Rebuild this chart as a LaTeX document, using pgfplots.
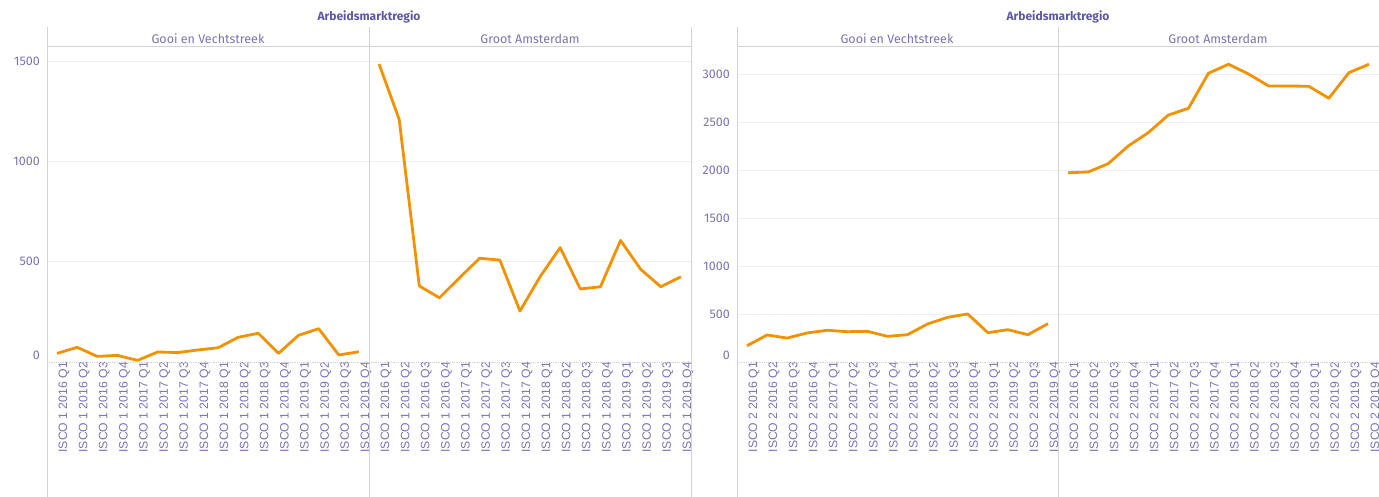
\documentclass[border=0pt]{standalone}
\usepackage{pgfplots}
\pgfplotsset{compat=1.18}
\usepackage{fontspec}
\setmainfont{Liberation Sans}
\newfontfamily\tabfont{Fira Sans}
\definecolor{txt}{HTML}{7A73B5}
\definecolor{ttl}{HTML}{5E57A3}
\definecolor{frm}{HTML}{D3D3D3}
\definecolor{grd}{HTML}{EFEFEF}
\definecolor{org}{HTML}{F39200}

\pgfplotsset{
  panel/.style={
    scale only axis, width=322pt, height=315pt, anchor=south west,
    xmin=-0.5, xmax=15.5, ymin=0,
    axis line style={draw=none},
    tick pos=left,
    xtick={0,...,15},
    major tick length=0pt,
    minor xtick={0.5,1.5,...,14.5},
    minor tick length=6pt,
    tick align=outside,
    minor tick style={color=grd, line width=0.8pt},
    xticklabel style={rotate=90, anchor=east, font=\fontsize{12.2}{13}\selectfont, text=txt, inner sep=0pt, yshift=-7pt},
    yticklabel style={font=\tabfont\fontsize{12.5}{13}\selectfont, text=txt, anchor=east, inner sep=0pt, xshift=-7pt},
    /pgf/number format/assume math mode=true,
    /pgf/number format/1000 sep={},
    scaled y ticks=false,
    ymajorgrids, grid style={color=grd, line width=1pt},
    cycle list={{org, line width=2.8pt, line join=round, mark=none}},
  },
  isco1/.style={xticklabels={ISCO 1 2016 Q1,ISCO 1 2016 Q2,ISCO 1 2016 Q3,ISCO 1 2016 Q4,ISCO 1 2017 Q1,ISCO 1 2017 Q2,ISCO 1 2017 Q3,ISCO 1 2017 Q4,ISCO 1 2018 Q1,ISCO 1 2018 Q2,ISCO 1 2018 Q3,ISCO 1 2018 Q4,ISCO 1 2019 Q1,ISCO 1 2019 Q2,ISCO 1 2019 Q3,ISCO 1 2019 Q4}},
  isco2/.style={xticklabels={ISCO 2 2016 Q1,ISCO 2 2016 Q2,ISCO 2 2016 Q3,ISCO 2 2016 Q4,ISCO 2 2017 Q1,ISCO 2 2017 Q2,ISCO 2 2017 Q3,ISCO 2 2017 Q4,ISCO 2 2018 Q1,ISCO 2 2018 Q2,ISCO 2 2018 Q3,ISCO 2 2018 Q4,ISCO 2 2019 Q1,ISCO 2 2019 Q2,ISCO 2 2019 Q3,ISCO 2 2019 Q4}},
}

\begin{document}
\begin{tikzpicture}[x=1pt,y=1pt]
\useasboundingbox (0,0) rectangle (1379,497);

% ---------- left chart (ISCO 1) ----------
\begin{axis}[panel, isco1, at={(47pt,135pt)}, ymax=1570,
  ytick={500,1000,1500}, extra y ticks={0},
  extra y tick style={yticklabel style={yshift=7pt}, grid=none}]
\addplot[org, line width=2.8pt, line join=round, mark=none] coordinates {(0,43) (1,73) (2,28) (3,33) (4,8) (5,50) (6,47) (7,60) (8,71) (9,123) (10,143) (11,43) (12,133) (13,166) (14,35) (15,51)};
\end{axis}
\begin{axis}[panel, isco1, at={(369pt,135pt)}, ymax=1570,
  ytick={500,1000,1500}, yticklabels={}]
\addplot[org, line width=2.8pt, line join=round, mark=none] coordinates {(0,1485) (1,1209) (2,379) (3,320) (4,420) (5,517) (6,508) (7,254) (8,425) (9,570) (10,364) (11,375) (12,606) (13,462) (14,375) (15,425)};
\end{axis}

% ---------- right chart (ISCO 2) ----------
\begin{axis}[panel, isco2, at={(737pt,135pt)}, width=321pt, ymax=3287,
  ytick={500,1000,...,3000}, extra y ticks={0},
  extra y tick style={yticklabel style={yshift=7pt}, grid=none}]
\addplot[org, line width=2.8pt, line join=round, mark=none] coordinates {(0,170) (1,282) (2,250) (3,303) (4,331) (5,316) (6,320) (7,268) (8,285) (9,397) (10,466) (11,501) (12,306) (13,337) (14,285) (15,400)};
\end{axis}
\begin{axis}[panel, isco2, at={(1058pt,135pt)}, width=321pt, ymax=3287,
  ytick={500,1000,...,3000}, yticklabels={}]
\addplot[org, line width=2.8pt, line join=round, mark=none] coordinates {(0,1975) (1,1983) (2,2069) (3,2254) (4,2393) (5,2577) (6,2647) (7,3013) (8,3107) (9,3005) (10,2880) (11,2880) (12,2877) (13,2752) (14,3019) (15,3107)};
\end{axis}

% ---------- frames ----------
\begin{scope}[frm, line width=1pt]
\draw (47,470) -- (47,0);
\draw (369,470) -- (369,0);
\draw (691,470) -- (691,0);
\draw (47,450) -- (691,450);
\draw (737,470) -- (737,0);
\draw (1058,470) -- (1058,0);
\draw (737,450) -- (1379,450);
\draw[densely dotted, line width=0.8pt] (47,135) -- (691,135);
\draw[densely dotted, line width=0.8pt] (737,135) -- (1379,135);
\end{scope}

% ---------- headers ----------
\node[text=ttl, font=\tabfont\bfseries\fontsize{12}{13}\selectfont] at (369,480) {Arbeidsmarktregio};
\node[text=ttl, font=\tabfont\bfseries\fontsize{12}{13}\selectfont] at (1058,480) {Arbeidsmarktregio};
\node[text=txt, font=\tabfont\fontsize{12.5}{13}\selectfont] at (208,458) {Gooi en Vechtstreek};
\node[text=txt, font=\tabfont\fontsize{12.5}{13}\selectfont] at (530,458) {Groot Amsterdam};
\node[text=txt, font=\tabfont\fontsize{12.5}{13}\selectfont] at (897,458) {Gooi en Vechtstreek};
\node[text=txt, font=\tabfont\fontsize{12.5}{13}\selectfont] at (1218,458) {Groot Amsterdam};
\end{tikzpicture}
\end{document}
